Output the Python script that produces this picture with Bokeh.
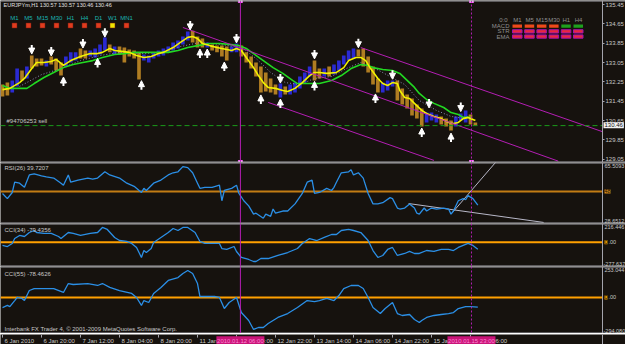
from bokeh.plotting import figure
from bokeh.models import (Range1d, LinearAxis, FixedTicker, PrintfTickFormatter, Span, Label,
                          BoxAnnotation, Arrow, NormalHead, ColumnDataSource)
from bokeh.layouts import column
from bokeh.transform import factor_cmap
from bokeh.core.properties import value
from bokeh.embed import file_html
from bokeh.resources import INLINE

# ---------------- data ----------------
symbol_title = "EURJPYm,H1  130.57 130.57 130.46 130.46"
last_price = 130.46
order_price = 130.44
order_label = "#94706253 sell"

bar_i = list(range(0, 196, 2))
bar_hi = [132.14, 132.22, 132.31, 132.80, 132.72, 132.89, 133.34, 133.22, 133.22, 133.13,
          133.30, 133.22, 133.05, 133.30, 133.47, 133.47, 133.63, 133.55, 133.55, 133.63,
          133.80, 134.09, 133.80, 133.71, 133.71, 133.67, 133.59, 133.55, 133.47, 133.38,
          133.34, 133.47, 133.55, 133.63, 133.71, 133.88, 133.96, 134.13, 134.33, 134.36,
          134.13, 134.04, 133.88, 133.80, 133.75, 133.75, 133.71, 133.71, 133.84, 133.75,
          133.47, 133.30, 133.05, 132.89, 132.64, 132.39, 132.14, 132.18, 132.06, 132.14,
          132.22, 132.47, 132.64, 132.89, 133.13, 132.80, 132.80, 132.89, 132.97, 133.13,
          133.34, 133.55, 133.63, 133.59, 133.63, 133.30, 132.89, 132.39, 132.22, 132.31,
          132.31, 132.31, 131.98, 131.73, 131.56, 131.31, 131.15, 130.98, 130.98, 130.90,
          130.82, 130.73, 130.65, 130.82, 130.94, 131.07, 130.90, 130.57]
bar_lo = [131.64, 131.69, 131.81, 132.06, 132.31, 132.39, 132.80, 132.89, 132.93, 132.89,
          132.97, 132.72, 132.51, 132.89, 133.05, 133.13, 133.22, 133.22, 133.30, 133.26,
          133.38, 133.55, 133.47, 133.38, 133.38, 133.05, 133.30, 133.22, 132.35, 133.13,
          133.05, 133.22, 133.30, 133.34, 133.47, 133.55, 133.63, 133.80, 133.96, 133.88,
          133.67, 133.67, 133.67, 133.55, 133.47, 133.30, 133.13, 133.47, 133.47, 133.30,
          133.05, 132.80, 132.47, 131.81, 131.85, 131.81, 131.73, 131.60, 131.73, 131.73,
          131.81, 131.98, 132.22, 132.47, 132.31, 132.39, 132.47, 132.47, 132.55, 132.72,
          132.97, 133.13, 133.22, 133.30, 132.89, 132.64, 132.14, 131.81, 131.81, 131.89,
          132.06, 131.48, 131.31, 131.15, 130.86, 130.73, 130.40, 130.57, 130.65, 130.57,
          130.49, 130.40, 130.24, 130.40, 130.65, 130.57, 130.49, 130.46]
bar_dir = list("dduududddu" "ddduuudduu" "uududddddu" "uuuuuuuuud" "ddudddduud"
               "dddddddudu" "uuuudduduu" "uuuddddduu" "udddddduuu" "ddduuudd")

fast_i = [0, 3, 7, 9, 12, 14, 17, 20, 22, 25, 28, 32, 36, 39, 41, 44, 46, 49, 52, 55,
          58, 61, 64, 66, 70, 73, 76, 78, 80, 82, 85, 88, 92, 94, 96, 98, 100, 103, 105, 107,
          109, 112, 115, 117, 120, 123, 126, 128, 130, 133, 137, 140, 142, 145, 147, 149, 151, 154, 156, 158,
          160, 162, 163, 165, 167, 169, 172, 174, 177, 180, 183, 185, 187, 189, 191, 194]
fast_v = [131.93, 131.98, 132.22, 132.39, 132.80, 133.05, 133.05, 133.09, 133.18, 132.93,
          133.13, 133.30, 133.42, 133.42, 133.47, 133.63, 133.55, 133.51, 133.47, 133.34,
          133.26, 133.30, 133.42, 133.47, 133.67, 133.88, 134.09, 134.13, 134.04, 133.84,
          133.75, 133.67, 133.59, 133.55, 133.63, 133.55, 133.26, 132.84, 132.51, 132.22,
          132.02, 131.98, 131.89, 131.85, 131.98, 132.22, 132.51, 132.64, 132.64, 132.60,
          132.64, 132.84, 133.13, 133.26, 133.26, 133.13, 132.80, 132.39, 132.18, 132.10,
          132.22, 132.18, 131.89, 131.60, 131.56, 131.36, 131.07, 130.94, 130.82, 130.73,
          130.57, 130.53, 130.57, 130.73, 130.78, 130.65]
slow_i = [0, 3, 7, 10, 13, 17, 21, 25, 29, 33, 37, 41, 46, 50, 54, 58, 62, 65, 68, 72,
          76, 80, 85, 89, 93, 97, 100, 103, 107, 111, 115, 119, 121, 126, 130, 135, 139, 143, 147, 150,
          152, 156, 160, 163, 166, 169, 171, 174, 177, 181, 184, 187, 189, 192]
slow_v = [132.10, 131.98, 131.98, 131.98, 132.18, 132.43, 132.64, 132.84, 132.97, 133.05,
          133.13, 133.26, 133.38, 133.42, 133.47, 133.47, 133.47, 133.47, 133.47, 133.55,
          133.67, 133.75, 133.84, 133.84, 133.80, 133.75, 133.63, 133.42, 133.13, 132.84,
          132.60, 132.31, 132.18, 132.18, 132.18, 132.31, 132.51, 132.80, 132.97, 132.93,
          132.84, 132.76, 132.72, 132.60, 132.31, 132.02, 131.77, 131.52, 131.36, 131.19,
          130.98, 130.90, 130.78, 130.78]
dot_i = [7, 16, 24, 32, 40, 48, 57, 65, 73, 81, 89, 98, 104, 110, 116, 122, 128, 135, 141, 147,
         153, 159, 165, 171, 178, 184, 190]
dot_v = [132.06, 132.55, 132.80, 133.13, 133.34, 133.47, 133.42, 133.47, 133.71, 133.88,
         133.80, 133.67, 133.22, 132.64, 132.22, 132.14, 132.39, 132.47, 132.80, 133.05,
         132.80, 132.47, 132.14, 131.48, 131.07, 130.82, 130.73]

sig_dn_i = [12, 20, 33, 42, 77, 96, 114, 128, 146, 160, 175, 188]
sig_dn_p = [133.40, 133.32, 133.65, 134.10, 134.40, 133.86, 132.20, 133.20, 133.66, 132.36, 131.17, 131.02]
sig_up_i = [25, 39, 57, 81, 84, 91, 106, 114, 128, 153, 172, 184]
sig_up_p = [132.45, 133.22, 132.30, 133.61, 133.61, 133.07, 131.71, 131.54, 132.27, 131.75, 130.34, 130.13]

chan_a_i, chan_a_p = [74, 228], [134.50, 128.97]
chan_b_i, chan_b_p = [147, 246.1], [133.67, 130.19]
chan_c_i, chan_c_p = [109, 177], [131.40, 129.00]
vline_solid_i = 97.6
vline_dot_i = 192.4

price_ticks = [129.05, 129.85, 130.65, 131.45, 132.25, 133.05, 133.85, 134.65, 135.45]

mtf_frames = ["M1", "M5", "M15", "M30", "H1", "H4", "D1", "W1", "MN1"]
mtf_state = ["down", "down", "down", "down", "down", "down", "down", "flat", "down"]
tbl_cols = ["M1", "M5", "M15", "M30", "H1", "H4"]
tbl_rows = ["MACD", "STR", "EMA"]
tbl_state = [["down", "down", "down", "down", "up", "up"],
             ["sdown"] * 6,
             ["sdown"] * 6]

rsi_name = "RSI(26) 39.7207"
rsi_min, rsi_max, rsi_level = 28.6512, 65.5093, 48
rsi_i = [0, 2, 4, 5, 7, 9, 11, 13, 16, 18, 21, 24, 25, 27, 28, 31, 35, 37, 39, 42,
         44, 48, 51, 54, 57, 58, 59, 62, 65, 68, 70, 72, 74, 76, 78, 80, 81, 83, 86, 89,
         90, 91, 94, 96, 97, 99, 101, 103, 104, 107, 108, 110, 111, 112, 115, 117, 120, 123, 125, 127,
         128, 130, 133, 135, 136, 137, 139, 142, 143, 144, 146, 148, 150, 152, 154, 156, 159, 160, 162, 163,
         165, 167, 169, 170, 171, 173, 174, 176, 178, 181, 183, 184, 185, 187, 189, 190, 191, 193, 195]
rsi_v = [46.8, 43.7, 47.4, 53.6, 53.0, 50.5, 58.0, 58.6, 57.4, 56.8, 56.1, 53.0, 51.8, 58.0, 53.6, 54.9, 56.1, 55.5, 56.1, 59.9,
         58.0, 56.1, 53.0, 51.1, 47.4, 49.9, 48.6, 53.0, 54.9, 58.0, 59.3, 59.9, 63.0, 62.4, 59.3, 53.0, 49.9, 50.5, 50.5, 51.8,
         42.4, 48.6, 49.9, 51.8, 46.8, 42.4, 39.3, 34.3, 34.9, 31.8, 34.3, 33.0, 37.4, 34.9, 36.2, 36.2, 40.5, 46.8, 53.6, 54.9,
         46.8, 47.4, 49.9, 48.6, 50.5, 53.6, 59.3, 59.9, 61.1, 58.0, 59.3, 56.1, 46.8, 40.5, 40.5, 41.2, 44.3, 43.7, 38.0, 37.4,
         38.0, 40.5, 38.0, 34.9, 34.3, 38.0, 36.2, 38.0, 37.4, 38.0, 37.4, 34.3, 36.2, 42.4, 43.7, 43.0, 45.5, 43.7, 39.72]
rsi_tl1_i, rsi_tl1_v = [166.6, 222.0], [40.7, 29.3]
rsi_tl2_i, rsi_tl2_v = [184.6, 204.0], [35.3, 68.5]

cci34_name = "CCI(34) -79.4356"
cci34_min, cci34_max = -277.637, 216.446
cci34_i = [0, 2, 4, 5, 7, 9, 11, 13, 14, 17, 20, 23, 24, 27, 29, 32, 36, 39, 41, 43,
           46, 48, 51, 53, 55, 57, 58, 59, 61, 62, 65, 68, 70, 72, 74, 76, 79, 81, 83, 86,
           89, 90, 92, 95, 96, 98, 101, 103, 104, 106, 109, 113, 117, 121, 123, 126, 129, 132, 135, 137,
           139, 142, 144, 147, 150, 152, 154, 156, 158, 160, 162, 165, 167, 169, 171, 174, 177, 180, 183, 185,
           187, 189, 191, 193, 195]
cci34_v = [-36, -48, -13, 44, 79, 67, 113, 136, 113, 102, 102, 67, 44, 113, 102, 79, 102, 113, 171, 148,
           56, 21, 10, -13, -59, -174, -94, -117, -71, -2, 56, 113, 159, 136, 171, 171, 113, 10, -13, -13,
           -13, -71, -82, -48, -105, -174, -197, -220, -220, -186, -186, -151, -117, -71, -13, 44, 21, 56, 90, 90,
           136, 148, 136, 113, 21, -94, -174, -151, -82, -59, -151, -128, -105, -128, -128, -94, -105, -82, -82, -94,
           -59, -36, -13, -36, -79.4356]

cci55_name = "CCI(55) -78.4626"
cci55_min, cci55_max = -294.080, 253.044
cci55_i = [0, 2, 3, 5, 6, 8, 9, 11, 13, 17, 21, 25, 27, 29, 35, 39, 41, 44, 48, 53,
           55, 57, 58, 60, 62, 65, 68, 72, 74, 76, 78, 80, 81, 84, 87, 89, 91, 93, 96, 98,
           101, 103, 105, 107, 109, 113, 117, 121, 125, 128, 130, 133, 136, 138, 140, 143, 146, 148, 150, 152,
           155, 157, 160, 162, 164, 167, 169, 171, 172, 174, 177, 180, 183, 185, 187, 190, 192, 195]
cci55_v = [-82, -65, -74, -25, 0, -8, -25, 57, 73, 73, 73, 41, 114, 106, 114, 98, 114, 82, 57, 33,
           0, -65, -25, -41, 33, 82, 139, 163, 196, 220, 196, 114, 8, 8, 8, 0, -90, -41, 0, -123,
           -188, -261, -245, -245, -212, -163, -131, -82, -25, -33, -25, -8, -25, 16, 73, 98, 98, 73, 0, -82,
           -131, -90, -41, -131, -147, -139, -180, -204, -188, -163, -147, -139, -131, -123, -90, -74, -74, -78.4626]
cci_level = 0
copyright_text = "Interbank FX Trader 4, \u00a9 2001-2009 MetaQuotes Software Corp."

time_ticks = [0, 16, 32, 48, 64, 80, 96, 112, 128, 144, 160, 176, 192]
time_labels = ["6 Jan 2010", "6 Jan 20:00", "7 Jan 12:00", "8 Jan 04:00", "8 Jan 20:00", "11 Jan 12:00",
               "12 Jan 04:00", "12 Jan 22:00", "13 Jan 14:00", "14 Jan 06:00", "14 Jan 22:00",
               "15 Jan 14:00", "16 Jan 06:00"]
vline_labels = ["2010.01.12 06:00", "2010.01.15 23:00"]

# ---------------- style ----------------
BG = "#16120e"
SEP = "#a4a4ac"
TXT = "#c8c8c8"
FONT = "Liberation Sans"
FS = "6px"
FS_AX = "5.5px"
UP, DN = "#2a2ad2", "#b07d22"
IND = "#2b8fe6"
MAG = "#b41eb4"
PX_BAR = 2.4375
X0 = -2 / PX_BAR
X_AX = X0 + 602 / PX_BAR          # price-axis position (pixel 602)
X_END = X0 + 625 / PX_BAR         # right edge of the window
MAIN_H, RSI_H, C34_H, C55_H, T_H = 162, 61, 43, 67, 11
P_TOP, P_BOT = 135.616, 128.914
xr = Range1d(X0, X_END)


def mx(px):
    return X0 + px / PX_BAR


def vy(lo, hi, h, py):
    return hi - py * (hi - lo) / h


def my(py):
    return vy(P_BOT, P_TOP, MAIN_H, py)


def panel(h, lo, hi, seps=True):
    f = figure(width=625, height=h, x_range=xr, y_range=Range1d(lo, hi),
               output_backend="svg", toolbar_location=None,
               x_axis_type=None, y_axis_type=None,
               min_border_left=0, min_border_right=0, min_border_top=0, min_border_bottom=0,
               background_fill_color=BG, border_fill_color=BG, outline_line_color=None)
    f.grid.visible = False
    if seps:
        d = 0.5 * (hi - lo) / h
        for loc in (hi - d, lo + d):
            f.add_layout(Span(location=loc, dimension="width", line_color=SEP, line_width=1))
    f.add_layout(Span(location=X_AX, dimension="height", line_color=SEP, line_width=1))
    return f


def lab(f, x, y, text, color=TXT, align="left", baseline="middle", bg=None, size=FS, **kw):
    f.add_layout(Label(x=x, y=y, text=text, text_color=color, text_font=FONT, text_font_size=size,
                       text_align=align, text_baseline=baseline, background_fill_color=bg, **kw))


def hline(f, yv, **kw):
    f.segment(x0=[X0], y0=[yv], x1=[X_AX], y1=[yv], **kw)


# ---------------- main price panel ----------------
p = panel(MAIN_H, P_BOT, P_TOP)
src = ColumnDataSource(dict(x=bar_i, hi=bar_hi, lo=bar_lo, d=bar_dir))
p.vbar(x="x", top="hi", bottom="lo", width=1.5, source=src,
       fill_color=factor_cmap("d", [UP, DN], ["u", "d"]), line_color=None)
p.line(dot_i, dot_v, line_color="#8c8cb4", line_dash="1 2", line_width=1)
p.line(slow_i, slow_v, line_color="#22d822", line_width=1.6)
p.line(fast_i, fast_v, line_color="#f2f200", line_width=1.6)
for ci, cp in [(chan_a_i, chan_a_p), (chan_b_i, chan_b_p), (chan_c_i, chan_c_p)]:
    p.line(ci, cp, line_color=MAG, line_width=1)

hline(p, order_price, line_color="#1a9a1a", line_dash="5 3", line_width=1)
lab(p, mx(6), order_price, order_label, baseline="bottom", y_offset=2)

ARW = 9 * (P_TOP - P_BOT) / MAIN_H
dn_src = ColumnDataSource(dict(x=sig_dn_i, y0=[v + ARW for v in sig_dn_p], y1=sig_dn_p))
up_src = ColumnDataSource(dict(x=sig_up_i, y0=[v - ARW for v in sig_up_p], y1=sig_up_p))
for s in (dn_src, up_src):
    p.add_layout(Arrow(end=NormalHead(size=6, fill_color="white", line_color="white", line_width=1),
                       source=s, x_start="x", y_start="y0", x_end="x", y_end="y1",
                       line_color="white", line_width=2))

pax = LinearAxis(fixed_location=X_AX, ticker=FixedTicker(ticks=price_ticks),
                 formatter=PrintfTickFormatter(format="%.2f"),
                 major_label_text_font_size=FS, major_label_text_font=FONT,
                 major_label_text_color=TXT, axis_line_color=SEP, major_tick_line_color=SEP,
                 major_tick_out=2, major_tick_in=0, minor_tick_out=0, minor_tick_in=0,
                 major_label_standoff=1)
p.add_layout(pax, "right")
lab(p, X_AX, last_price, "130.46", color="#101010", bg="#f2f2f2", x_offset=1, padding=1)

lab(p, mx(3), my(4), symbol_title, color="#e0e0e0", size="5.5px")
MTF_COL = {"down": "#e03c1e", "flat": "#f0e400"}
for k, (tf, st) in enumerate(zip(mtf_frames, mtf_state)):
    cx = 14 + 14 * k
    lab(p, mx(cx), my(17), tf, color="#1ab4b4", align="center")
    p.add_layout(BoxAnnotation(left=mx(cx - 2.5), right=mx(cx + 2.5), top=my(22.5), bottom=my(27.5),
                               fill_color=MTF_COL[st], fill_alpha=1, line_color="#701810",
                               line_alpha=1, line_width=0.5))
TBL_FILL = {"down": "#ee4a1a", "up": "#1ea01e", "sdown": "#e8283c"}
TBL_LINE = {"down": None, "up": None, "sdown": "#a010b0"}
lab(p, mx(503), my(19), "0:0", color="#909090", align="center")
for k, c in enumerate(tbl_cols):
    lab(p, mx(517 + 12.2 * k), my(19), c, color="#909090", align="center")
for rr, (rn, states) in enumerate(zip(tbl_rows, tbl_state)):
    top = 24 + 5.2 * rr
    lab(p, mx(509), my(top + 1.7), rn, color="#909090", align="right")
    for k, st in enumerate(states):
        left = 512 + 12.2 * k
        p.add_layout(BoxAnnotation(left=mx(left), right=mx(left + 9.5), top=my(top), bottom=my(top + 3.3),
                                   fill_color=TBL_FILL[st], fill_alpha=1,
                                   line_color=TBL_LINE[st], line_alpha=1, line_width=1))

# ---------------- RSI ----------------
r = panel(RSI_H, rsi_min, rsi_max)
hline(r, rsi_level, line_color="#c27c14", line_width=2)
r.line(rsi_tl1_i, rsi_tl1_v, line_color="#b8b8c8", line_width=1)
r.line(rsi_tl2_i, rsi_tl2_v, line_color="#b8b8c8", line_width=1)
r.line(rsi_i, rsi_v, line_color=IND, line_width=1.3)
lab(r, mx(4), vy(rsi_min, rsi_max, RSI_H, 5), rsi_name)
lab(r, X_AX, rsi_max, "65.5093", baseline="top", x_offset=2, y_offset=-1, size=FS_AX)
lab(r, X_AX, rsi_min, "28.6512", baseline="bottom", x_offset=2, y_offset=1, size=FS_AX)
lab(r, X_AX, rsi_level, str(rsi_level), color="#201000", bg="#d48a1a", x_offset=2, size=FS_AX)


# ---------------- CCI panels ----------------
def cci_panel(h, lo, hi, xs, ys, name, name_py):
    f = panel(h, lo, hi)
    hline(f, cci_level, line_color="#ffa000", line_width=2)
    f.line(xs, ys, line_color=IND, line_width=1.3)
    lab(f, mx(4), vy(lo, hi, h, name_py), name)
    lab(f, X_AX, hi, "%.3f" % hi, baseline="top", x_offset=2, y_offset=-1, size=FS_AX)
    lab(f, X_AX, lo, "%.3f" % lo, baseline="bottom", x_offset=1, y_offset=1, size=FS_AX)
    lab(f, X_AX, cci_level, "0", color="#201000", bg="#f0a000", x_offset=2, size=FS_AX)
    lab(f, X_AX, cci_level, ".00", x_offset=6, size=FS_AX)
    return f


c34 = cci_panel(C34_H, cci34_min, cci34_max, cci34_i, cci34_v, cci34_name, 6)
c55 = cci_panel(C55_H, cci55_min, cci55_max, cci55_i, cci55_v, cci55_name, 7)
lab(c55, mx(4), vy(cci55_min, cci55_max, C55_H, 62), copyright_text)

for f in (p, r, c34, c55):
    f.add_layout(Span(location=vline_solid_i, dimension="height", line_color=MAG, line_width=1))
    f.add_layout(Span(location=vline_dot_i, dimension="height", line_color=MAG, line_width=1,
                      line_dash="2 2"))
p.scatter(x=[vline_solid_i, vline_solid_i, vline_dot_i, vline_dot_i], y=[P_TOP, P_BOT, P_TOP, P_BOT],
          marker="square", size=4, fill_color="#ffffff", line_color="#ff60ff")

# ---------------- time strip ----------------
t = panel(T_H, 0, 1, seps=False)
t.segment(x0=time_ticks, y0=[1] * len(time_ticks), x1=time_ticks, y1=[0.72] * len(time_ticks),
          line_color=SEP, line_width=1)
t.text(x=time_ticks, y=[0.42] * len(time_ticks), text=time_labels, x_offset=2,
       text_font=value(FONT), text_font_size=value(FS), text_color=TXT,
       text_align="left", text_baseline="middle")
vl = [vline_solid_i, vline_dot_i]
half = 24 / PX_BAR
t.quad(left=[v - half for v in vl], right=[v + half for v in vl], top=[0.85] * 2, bottom=[0.05] * 2,
       fill_color="#c81478", line_color=None)
t.text(x=vl, y=[0.44] * 2, text=vline_labels, text_font=value(FONT), text_font_size=value(FS),
       text_color="#ff86d4", text_align="center", text_baseline="middle")

layout = column(p, r, c34, c55, t, spacing=0)
open("out.html", "w").write(file_html(layout, INLINE, "EURJPY H1"))
